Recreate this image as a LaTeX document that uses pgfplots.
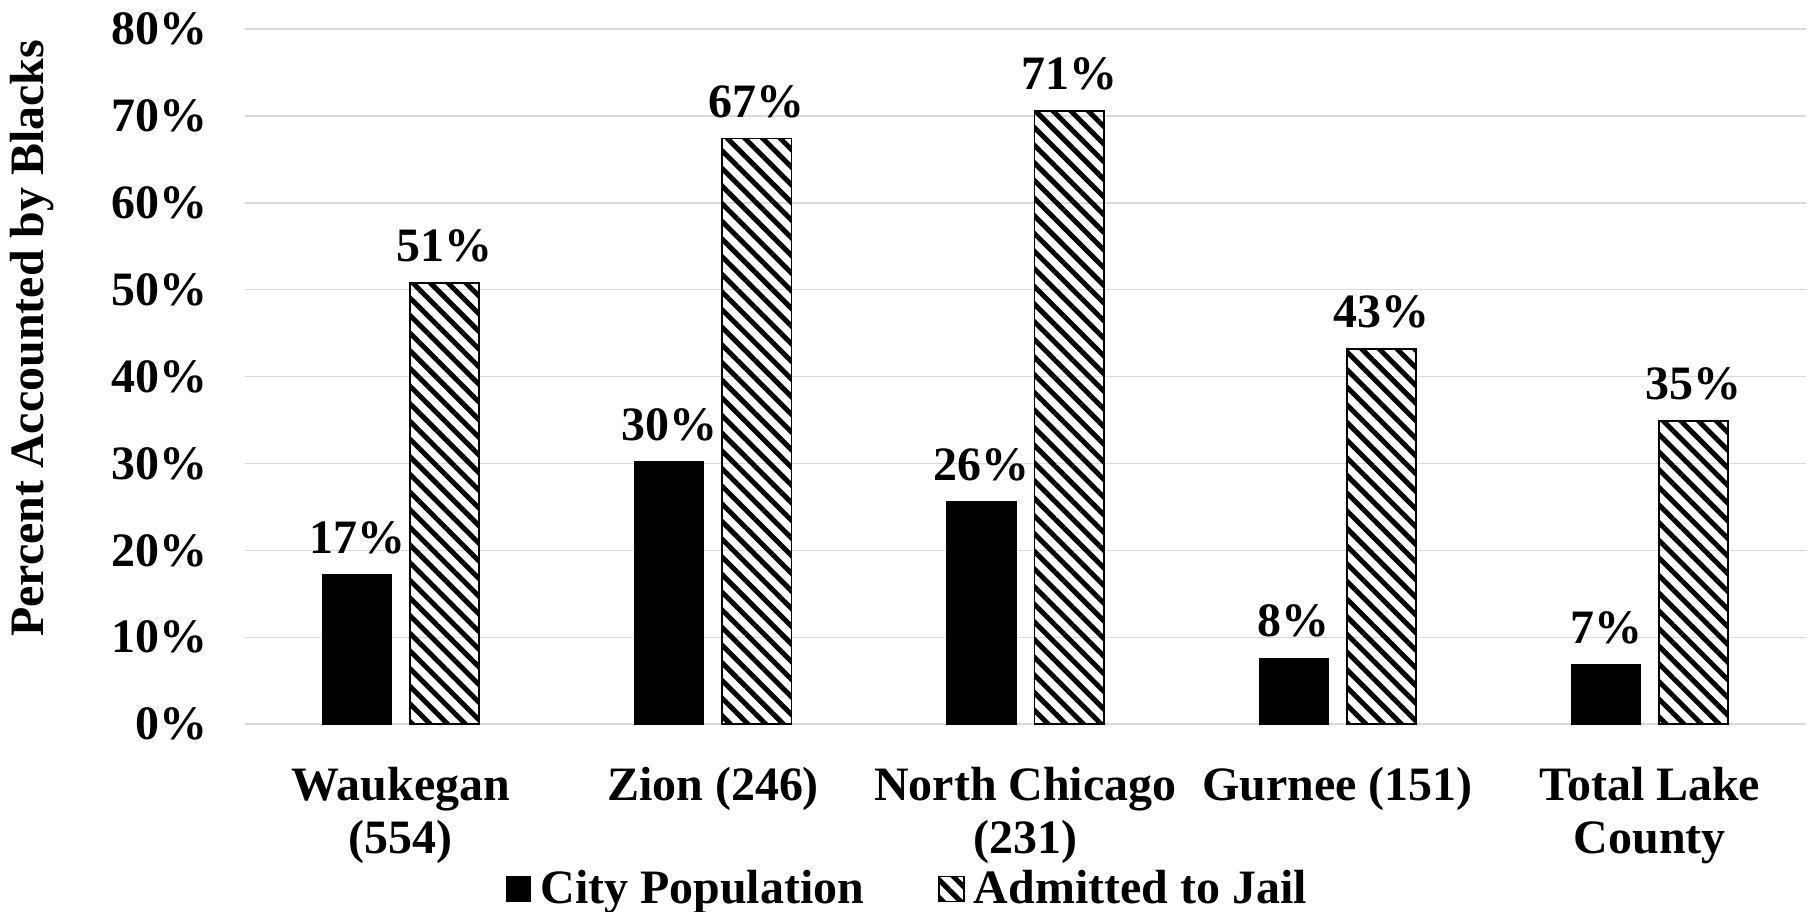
\documentclass[border=0pt]{standalone}
\usepackage{fontspec}
\setmainfont{Liberation Serif}
\usepackage{pgfplots}
\pgfplotsset{compat=1.18}
\usetikzlibrary{patterns.meta}
\newcommand{\chartfont}{\fontsize{19.2pt}{21.2pt}\selectfont\bfseries}
\tikzset{hatchbar/.style={pattern={Lines[angle=-45,distance=5pt,line width=2pt]}, pattern color=black, draw=black, line width=0.7pt}}
\begin{document}
\begin{tikzpicture}[font=\chartfont]
\begin{axis}[
  width=625.2pt, height=278.4pt, scale only axis,
  ybar=7.4pt, bar width=27.7pt,
  xmin=-0.5, xmax=4.5, ymin=0, ymax=80,
  xtick={0,1,2,3,4},
  xticklabels={{Waukegan\\(554)},{Zion (246)},{North Chicago\\(231)},{Gurnee (151)},{Total Lake\\County}},
  xticklabel style={align=center, anchor=north, inner sep=0pt, yshift=-17pt, font=\chartfont},
  ytick={0,10,...,80},
  yticklabel={\pgfmathprintnumber{\tick}\%},
  yticklabel style={anchor=east, inner sep=0pt, xshift=-14.7pt, font=\chartfont},
  /pgf/number format/assume math mode=true,
  major tick length=0pt,
  axis line style={draw=none},
  ymajorgrids, grid style={draw=black!15, line width=0.6pt},
  ylabel={Percent Accounted by Blacks},
  ylabel style={at={(axis description cs:-0.136,0.555)}, anchor=center, font=\chartfont},
  nodes near coords={\pgfmathprintnumber[fixed,precision=0]{\pgfplotspointmeta}\%},
  nodes near coords style={anchor=base, inner sep=0pt, yshift=8.5pt, font=\chartfont, text=black},
  legend style={at={(0.4265,-0.237)}, anchor=center, draw=none, fill=none, font=\chartfont,
    legend columns=2, /tikz/every even column/.append style={column sep=26pt},
    nodes={inner xsep=3.6pt, inner ysep=1.8pt}},
  legend image code/.code={\draw[#1] (0pt,-5pt) rectangle (10pt,5pt);},
]
\addplot[fill=black, draw=black, line width=0.4pt] coordinates {(0,17.2) (1,30.2) (2,25.6) (3,7.6) (4,6.9)};
\addlegendentry{City Population}
\addplot[hatchbar] coordinates {(0,50.8) (1,67.4) (2,70.6) (3,43.2) (4,34.9)};
\addlegendentry{Admitted to Jail}
\coordinate (SW) at (rel axis cs:0,0);
\coordinate (NE) at (rel axis cs:1,1);
\end{axis}
\pgfresetboundingbox
\path[use as bounding box] ([shift={(-98pt,-75.2pt)}]SW) rectangle ([shift={(1.6pt,11.6pt)}]NE);
\end{tikzpicture}
\end{document}
